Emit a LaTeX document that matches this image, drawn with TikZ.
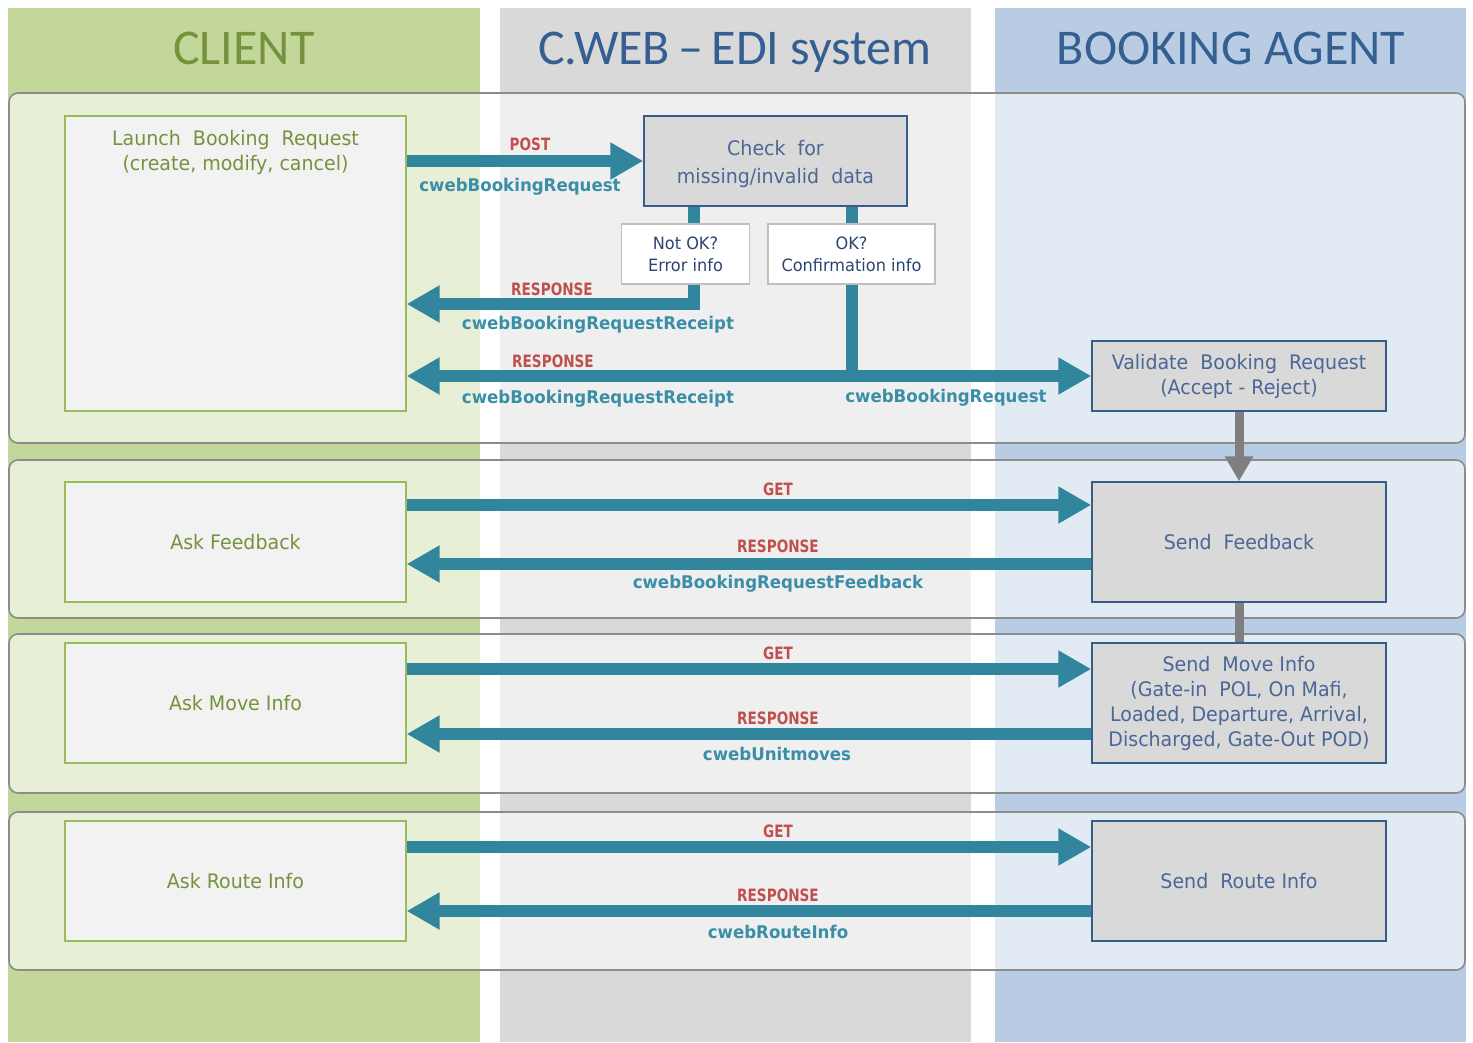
\documentclass[tikz,border=0pt]{standalone}
\usepackage{fontspec}
\usetikzlibrary{arrows.meta}
\newfontfamily\hfont{Carlito}
\newfontfamily\tfont[FakeStretch=0.95]{DejaVu Sans}
\newfontfamily\rfont[FakeStretch=0.8]{DejaVu Sans}
\definecolor{clientcol}{HTML}{C4D79B}
\definecolor{cwebcol}{HTML}{D9D9D9}
\definecolor{agentcol}{HTML}{B8CCE4}
\definecolor{arrowteal}{HTML}{31859C}
\definecolor{labteal}{HTML}{3A8FA6}
\definecolor{labred}{HTML}{C0504D}
\definecolor{olivetxt}{HTML}{76923C}
\definecolor{clientbord}{HTML}{9BBB59}
\definecolor{agentbord}{HTML}{385D8A}
\definecolor{bluetxt}{HTML}{4A6796}
\definecolor{headblue}{HTML}{365F91}
\definecolor{darkbluetxt}{HTML}{2B4470}
\definecolor{bandbord}{HTML}{8C8C8C}
\definecolor{grayarrow}{HTML}{7F7F7F}
\newcommand{\dd}{\hspace{0.3em}}
\begin{document}
\begin{tikzpicture}[x=1pt,y=-1pt,
  band/.style={rounded corners=9pt, fill=white, fill opacity=0.6, draw=bandbord, line width=1.6pt},
  heading/.style={font=\hfont\fontsize{50}{60}\selectfont, anchor=base},
  cbox/.style={draw=clientbord, fill=black!5, line width=1.3pt, minimum width=341pt, inner sep=0pt,
     text=olivetxt, font=\tfont\fontsize{20}{25}\selectfont, align=center},
  abox/.style={draw=agentbord, fill=cwebcol, line width=1.5pt, minimum width=294pt, inner sep=0pt,
     text=bluetxt, font=\tfont\fontsize{20}{25}\selectfont, align=center},
  sbox/.style={draw=black!25, fill=white, line width=1.2pt, minimum height=60pt, inner sep=0pt,
     text=darkbluetxt, font=\tfont\fontsize{17}{22}\selectfont, align=center},
  redlab/.style={text=labred, font=\rfont\bfseries\fontsize{17}{20}\selectfont, inner sep=0pt},
  teallab/.style={text=labteal, font=\tfont\bfseries\fontsize{17.5}{20}\selectfont, inner sep=0pt},
  tline/.style={draw=arrowteal, line width=12pt, line join=miter},
  tarrow/.style={tline, -{Triangle[length=33pt,width=35pt]}},
  tarrowboth/.style={tline, {Triangle[length=33pt,width=35pt]}-{Triangle[length=33pt,width=35pt]}},
  garrow/.style={draw=grayarrow, line width=9pt, -{Triangle[length=25pt,width=27pt]}},
  gline/.style={draw=grayarrow, line width=9pt}
]
\useasboundingbox (0,0) rectangle (1473,1042);
\fill[white] (0,0) rectangle (1473,1042);
% columns
\fill[clientcol] (8,8) rectangle (480,1042);
\fill[cwebcol] (500,8) rectangle (971,1042);
\fill[agentcol] (995,8) rectangle (1466,1042);
% headings
\node[heading, text=olivetxt] (hclient) at (244,64) {CLIENT};
\node[heading, text=headblue] (hcweb) at (735,64) {C.WEB\,–\,EDI system};
\node[heading, text=headblue] (hagent) at (1231,64) {BOOKING AGENT};
% bands
\draw[band] (9,93) rectangle (1465,443);
\draw[band] (9,460) rectangle (1465,618);
\draw[band] (9,634) rectangle (1465,793);
\draw[band] (9,812) rectangle (1465,970);
% client boxes
\node[cbox, minimum height=295pt] (launch) at (235.5,263.5) {};
\node[anchor=north, inner sep=0pt, text=olivetxt, font=\tfont\fontsize{20}{25}\selectfont, align=center] (launchtxt) at (235.5,130)
  {Launch\dd{} Booking\dd{} Request\\(create, modify, cancel)};
\node[cbox, minimum height=120pt] (askfb) at (235.5,542) {Ask Feedback};
\node[cbox, minimum height=120pt] (askmove) at (235.5,703) {Ask Move Info};
\node[cbox, minimum height=120pt] (askroute) at (235.5,881) {Ask Route Info};
% cweb boxes
\node[abox, minimum width=263pt, minimum height=90pt] (check) at (775.5,161) {};
\node[inner sep=0pt, text=bluetxt, font=\tfont\fontsize{20}{28}\selectfont, align=center] (checktxt) at (775.5,164)
  {Check\dd{} for\\missing/invalid\dd{} data};
\node[sbox, minimum width=128pt] (notok) at (685.5,254) {Not OK?\\Error info};
\node[sbox, minimum width=167pt] (ok) at (851.5,254) {OK?\\Confirmation info};
% agent boxes
\node[abox, minimum height=70pt] (validate) at (1239,376) {Validate\dd{} Booking\dd{} Request\\(Accept - Reject)};
\node[abox, minimum height=120pt] (sendfb) at (1239,542) {Send\dd{} Feedback};
\node[abox, minimum height=120pt] (sendmove) at (1239,703)
  {Send\dd{} Move Info\\(Gate-in\dd{} POL, On Mafi,\\Loaded, Departure, Arrival,\\Discharged, Gate-Out POD)};
\node[abox, minimum height=120pt] (sendroute) at (1239,881) {Send\dd{} Route Info};
% helper coordinates
\coordinate (yerr) at (0,304);
% band 1 connectors
\draw[tarrow] (launch.east |- check.west) -- (check.west);
\draw[tline] ([xshift=8pt]notok.north |- check.south) -- ([xshift=8pt]notok.north);
\draw[tline] (ok.north |- check.south) -- (ok.north);
\draw[tarrow] ([xshift=8pt]notok.south) |- (launch.east |- yerr);
\draw[tline] (ok.south) -- (ok.south |- validate.west);
\draw[tarrowboth] (launch.east |- validate.west) -- (validate.west);
\draw[garrow] (validate.south) -- (sendfb.north);
\draw[gline] (sendfb.south) -- (sendmove.north);
% band 2-4 connectors
\draw[tarrow] ([yshift=37pt]askfb.east) -- ([yshift=37pt]sendfb.west);
\draw[tarrow] ([yshift=-22pt]sendfb.west) -- ([yshift=-22pt]askfb.east);
\draw[tarrow] ([yshift=34pt]askmove.east) -- ([yshift=34pt]sendmove.west);
\draw[tarrow] ([yshift=-31pt]sendmove.west) -- ([yshift=-31pt]askmove.east);
\draw[tarrow] ([yshift=34pt]askroute.east) -- ([yshift=34pt]sendroute.west);
\draw[tarrow] ([yshift=-30pt]sendroute.west) -- ([yshift=-30pt]askroute.east);
% labels
\node[redlab] (lpost) at (530,144) {POST};
\node[teallab] (lreq1) at (520,187) {cwebBookingRequest};
\node[redlab] (lresp1) at (552,289) {RESPONSE};
\node[teallab] (lrec1) at (598,325) {cwebBookingRequestReceipt};
\node[redlab] (lresp2) at (553,361) {RESPONSE};
\node[teallab] (lrec2) at (598,399) {cwebBookingRequestReceipt};
\node[teallab] (lreq2) at (946,398) {cwebBookingRequest};
\node[redlab] (lget1) at (778,489) {GET};
\node[redlab] (lresp3) at (778,546) {RESPONSE};
\node[teallab] (lfb) at (778,584) {cwebBookingRequestFeedback};
\node[redlab] (lget2) at (778,653) {GET};
\node[redlab] (lresp4) at (778,718) {RESPONSE};
\node[teallab] (lmoves) at (777,754) {cwebUnitmoves};
\node[redlab] (lget3) at (778,831) {GET};
\node[redlab] (lresp5) at (778,895) {RESPONSE};
\node[teallab] (lroute) at (778,932) {cwebRouteInfo};
\end{tikzpicture}
\end{document}
